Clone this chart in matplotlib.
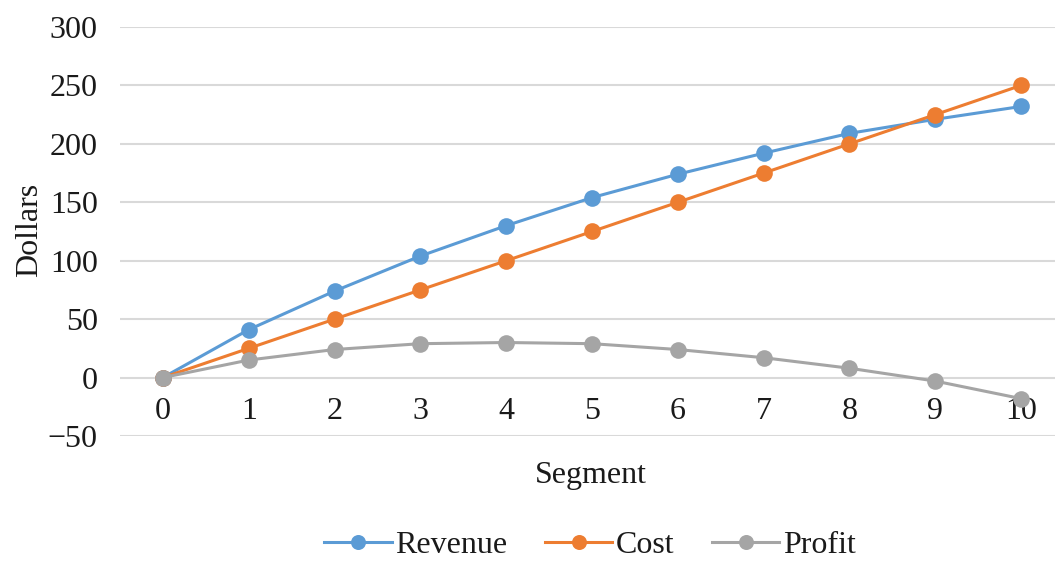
import matplotlib
matplotlib.use("Agg")
import matplotlib.pyplot as plt

segments = [0, 1, 2, 3, 4, 5, 6, 7, 8, 9, 10]
revenue = [0, 41, 74, 104, 130, 154, 174, 192, 209, 221, 232]
cost = [0, 25, 50, 75, 100, 125, 150, 175, 200, 225, 250]
profit = [0, 15, 24, 29, 30, 29, 24, 17, 8, -3, -18]
y_ticks = [-50, 0, 50, 100, 150, 200, 250, 300]
y_tick_labels = ["\u221250", "0", "50", "100", "150", "200", "250", "300"]

plt.rcParams['font.family'] = ['Liberation Serif', 'DejaVu Serif']

fig = plt.figure(figsize=(10.55, 5.61), dpi=100)
W, H = 1055, 561
left, right, top, bottom = 120, 1064, 27, 436
ax = fig.add_axes([left / W, (H - bottom) / H, (right - left) / W, (bottom - top) / H])

series = [("Revenue", revenue, "#5B9BD5"), ("Cost", cost, "#ED7D31"), ("Profit", profit, "#A5A5A5")]
for name, vals, col in series:
    ax.plot(segments, vals, color=col, lw=2.2, marker='o', markersize=12,
            markeredgewidth=0, label=name, clip_on=False, zorder=3)

fs = 23
ax.set_xlim(-0.5, 10.5)
ax.set_ylim(-50, 300)
ax.set_yticks(y_ticks)
ax.set_yticklabels(y_tick_labels)
ax.grid(axis='y', color='#D9D9D9', lw=1.5)
ax.set_axisbelow(True)
for s in ['left', 'right', 'top']:
    ax.spines[s].set_visible(False)
ax.spines['bottom'].set_position(('data', 0))
ax.spines['bottom'].set_visible(False)
ax.set_xticks(segments)
ax.tick_params(axis='x', length=0, pad=14, labelsize=fs, colors='#1a1a1a')
ax.tick_params(axis='y', length=0, pad=16, labelsize=fs, colors='#1a1a1a')

fig.text(30 / W, 1 - 230 / H, "Dollars", rotation=90, ha='center', va='center',
         fontsize=fs, color='#1a1a1a')
fig.text(591 / W, 1 - 475 / H, "Segment", ha='center', va='center',
         fontsize=fs, color='#1a1a1a')

leg = fig.legend(loc='center', bbox_to_anchor=(590 / W, 1 - 545 / H), ncol=3,
                 frameon=False, fontsize=fs, handlelength=2.1, columnspacing=1.2,
                 handletextpad=0.1, labelcolor='#1a1a1a', markerscale=0.9)

fig.savefig("out.png", dpi=100, facecolor='white')
